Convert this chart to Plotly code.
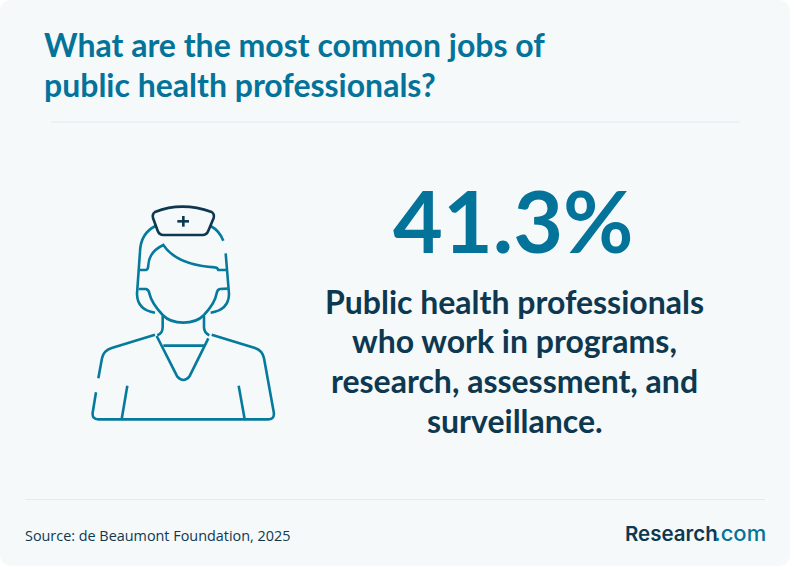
import re
import plotly.graph_objects as go

title_lines = ["What are the most common jobs of", "public health professionals?"]
stat_value = 41.3
body_lines = ["Public health professionals", "who work in programs,", "research, assessment, and", "surveillance."]
source_text = "Source: de Beaumont Foundation, 2025"
logo_dark = "Research"
logo_light = ".com"

TEAL = "#04739a"
ICON = "#067a9c"
NAVY = "#0d3850"
BG = "#f5f9fa"
RULE = "#e4eaed"

teal_paths = [
    "M 226,108 Q 182,130 180,185 L 171,312 Q 172,360 225,368",
    "M 392,108 Q 418,122 430,152",
    "M 437,190 L 447,312 Q 446,360 392,368",
    "M 180,240 L 198,240 Q 205,238 205,225 Q 207,185 250,165 Q 290,225 405,232 Q 412,232 415,240 L 440,240",
    "M 176,297 L 198,297 Q 207,300 208,310 Q 215,340 248,375 Q 270,398 310,398 Q 350,398 372,375 Q 405,340 410,310 Q 412,298 420,297 L 443,296",
    "M 248,378 L 248,412 Q 248,430 232,436",
    "M 372,378 L 372,412 Q 372,428 388,436",
    "M 225,434 L 95,474 Q 70,482 66,505 L 55,565",
    "M 48,607 L 38,668 Q 36,688 55,688 L 565,688 Q 585,688 581,665 L 552,505 Q 548,482 525,474 L 395,434",
    "M 230,438 L 292,560 Q 310,580 328,560 L 385,445",
    "M 250,467 L 372,467",
    "M 142,587 L 125,688",
    "M 476,587 L 494,688",
]
navy_paths = [
    "M 225,66 Q 305,34 395,66 Q 404,72 401,84 L 385,122 Q 380,135 368,135 L 250,135 Q 238,135 233,122 L 219,84 Q 216,72 225,66 Z",
    "M 310,78 L 310,110",
    "M 292,94 L 327,94",
]


def to_px(path):
    def pair(m):
        return f"{80 + float(m.group(1)) / 3:.2f},{190 + float(m.group(2)) / 3:.2f}"
    return re.sub(r"([\d.]+),([\d.]+)", pair, path)


shapes = [
    dict(type="path", xref="x", yref="y", layer="below", line=dict(width=0), fillcolor=BG,
         path="M 12,0 L 778,0 Q 790,0 790,12 L 790,554 Q 790,566 778,566 L 12,566 Q 0,566 0,554 L 0,12 Q 0,0 12,0 Z"),
    dict(type="line", xref="x", yref="y", x0=51, x1=740, y0=122, y1=122, line=dict(color=RULE, width=1)),
    dict(type="line", xref="x", yref="y", x0=25, x1=765, y0=499.5, y1=499.5, line=dict(color=RULE, width=1)),
]
for p in teal_paths:
    shapes.append(dict(type="path", xref="x", yref="y", path=to_px(p), line=dict(color=ICON, width=2.6)))
for p in navy_paths:
    shapes.append(dict(type="path", xref="x", yref="y", path=to_px(p), line=dict(color=NAVY, width=2.6)))


def label(x, y, text, size, color, family="Lato", anchor="left", weight=None):
    font = dict(family=family, size=size, color=color)
    if weight:
        font["weight"] = weight
    return dict(x=x, y=y, xref="x", yref="y", text=text, showarrow=False, xanchor=anchor, yanchor="middle",
                font=font, align=anchor, borderpad=0, borderwidth=0)


annotations = []
for y, line in zip([44.5, 84.5], title_lines):
    annotations.append(label(43.5, y, line, 32, TEAL, weight=700))
annotations.append(label(513.5, 219.5, f"{stat_value}%", 86, TEAL, anchor="center", weight=700))
for y, line in zip([301, 340, 380, 420], body_lines):
    annotations.append(label(514.5, y, line, 32, NAVY, anchor="center", weight=700))
annotations.append(label(25, 535, source_text, 14.4, NAVY, family="Open Sans"))
annotations.append(label(717.5, 533, logo_dark, 20.5, NAVY, family="Inter", anchor="right", weight=600))
annotations.append(label(766, 533, logo_light, 22, TEAL, family="Inter", anchor="right", weight=500))

fig = go.Figure()
fig.update_layout(
    width=790, height=566, margin=dict(l=0, r=0, t=0, b=0),
    paper_bgcolor="white", plot_bgcolor="rgba(0,0,0,0)",
    xaxis=dict(range=[0, 790], visible=False, fixedrange=True),
    yaxis=dict(range=[566, 0], visible=False, fixedrange=True),
    shapes=shapes, annotations=annotations, showlegend=False,
)
fig.write_html("out.html", config={"displayModeBar": False},
               post_script="document.body.style.margin='0';document.body.style.overflow='hidden';")
